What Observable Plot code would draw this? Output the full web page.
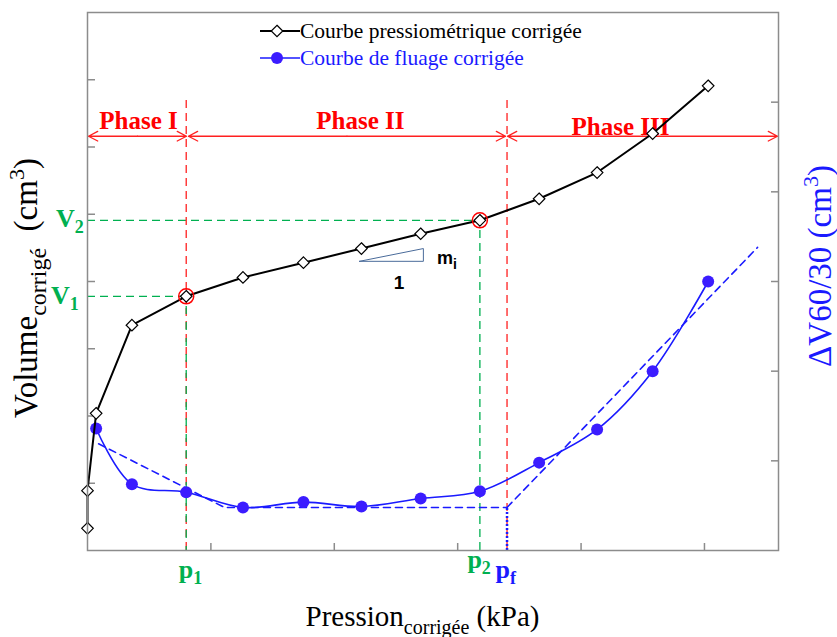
<!DOCTYPE html>
<html><head><meta charset="utf-8">
<script src="https://cdn.jsdelivr.net/npm/d3@7"></script>
<script src="https://cdn.jsdelivr.net/npm/@observablehq/plot@0.6"></script>
<style>
body{margin:0;background:#fff;}
#chart{width:837px;height:637px;}
</style>
</head><body><div id="chart"></div>
<script>
// ---- data ----
const pressure = [0, 0, 35, 180, 400, 630, 875, 1110, 1350, 1590, 1830, 2065, 2290, 2515];
const volume   = [33, 89, 204, 335, 378, 406, 428, 449, 471, 491, 523, 562, 620, 691];
const creepPressure = [35, 180, 400, 630, 875, 1110, 1350, 1590, 1830, 2065, 2290, 2515];
const creepDV       = [13.6, 7.4, 6.5, 4.8, 5.4, 4.9, 5.8, 6.6, 9.8, 13.5, 20.0, 30.0];
const xTicks = [500, 1000, 1500, 2000, 2500];
const yLeftTicks = [100, 200, 300, 400, 500, 600, 700];
const yRightTicks = [10, 20, 30, 40, 50];
const p1 = 400, p2 = 1590, pf = 1700, V1 = 378, V2 = 491;
const circled = [4, 9]; // indices of circled points
const trendP1 = [45, 555, 1700];   const trendD1 = [11.9, 4.8, 4.8];
const trendP2 = [1700, 2715];      const trendD2 = [4.8, 33.8];
const phaseNames = ["Phase I", "Phase II", "Phase III"];
const phaseBounds = [[4, 401], [409, 1694], [1702, 2796]];
const phaseLabelX = [207, 1106, 2160];
const phaseLabelY = [639, 639, 630];
const phaseArrowY = 616;
const redTop = 674;
const slopeP = [1102, 1361, 1361, 1102];
const slopeV = [430, 430, 449, 430];

// ---- layout ----
const W = 837, H = 637;
const mL = 87, mR = 59, mT = 12, mB = 87;
const xMax = 2800, yMax = 800, dvMax = 60;
const k = yMax / dvMax; // right-axis values mapped into left scale
const plotW = W - mL - mR, plotH = H - mT - mB;
const gray = "#8c8c8c", blue = "#1a1aff", dotBlue = "#3b1cff", green = "#00b050";
const serif = "Liberation Serif, Times New Roman, serif";
const sans = "Liberation Sans, Arial, sans-serif";

const main = pressure.map((p, i) => ({p, v: volume[i]}));
const creep = creepPressure.map((p, i) => ({p, v: creepDV[i] * k}));
const t1 = trendP1.map((p, i) => ({p, v: trendD1[i] * k}));
const t2 = trendP2.map((p, i) => ({p, v: trendD2[i] * k}));
const tri = slopeP.map((p, i) => ({p, v: slopeV[i]}));

const arrows = [];
phaseBounds.forEach(([a, b]) => {
  const m = (a + b) / 2;
  arrows.push({x1: m, x2: a}, {x1: m, x2: b});
});
const phaseText = phaseNames.map((t, i) => ({t, x: phaseLabelX[i], y: phaseLabelY[i]}));

const plot = Plot.plot({
  width: W, height: H,
  marginLeft: mL, marginRight: mR, marginTop: mT, marginBottom: mB,
  style: {fontFamily: serif, background: "white", fontSize: "16px"},
  x: {domain: [0, xMax], axis: null},
  y: {domain: [0, yMax], axis: null},
  marks: [
    // ticks (inward)
    Plot.ruleX(xTicks, {x: d => d, insetTop: plotH - 7, stroke: gray, strokeWidth: 1.5}),
    Plot.ruleY(yLeftTicks, {y: d => d, insetRight: plotW - 8, stroke: gray, strokeWidth: 1.5}),
    Plot.ruleY(yRightTicks, {y: d => d * k, insetLeft: plotW - 7, stroke: gray, strokeWidth: 1.5}),
    // green guides
    Plot.ruleY([V1], {y: d => d, x1: 0, x2: p1, stroke: green, strokeWidth: 1.3, strokeDasharray: "8,5"}),
    Plot.ruleY([V2], {y: d => d, x1: 0, x2: p2, stroke: green, strokeWidth: 1.3, strokeDasharray: "8,5"}),
    Plot.ruleX([p2], {x: d => d, y1: 0, y2: V2, stroke: green, strokeWidth: 1.3, strokeDasharray: "8,5"}),
    // red phase limits
    Plot.ruleX([p1, pf], {x: d => d, y1: 0, y2: redTop, stroke: "#ff2020", strokeWidth: 1.3, strokeDasharray: "8,5"}),
    Plot.ruleX([p1], {x: d => d, y1: 0, y2: V1, stroke: green, strokeWidth: 1.3, strokeDasharray: "8,8", strokeDashoffset: 4}),
    // blue dotted pf
    Plot.ruleX([pf], {x: d => d, y1: 0, y2: trendD1[2] * k, stroke: blue, strokeWidth: 2.5, strokeDasharray: "2,2"}),
    // phase arrows
    Plot.arrow(arrows, {x1: "x1", x2: "x2", y1: phaseArrowY, y2: phaseArrowY, stroke: "#ff2020", strokeWidth: 1.3, headLength: 12, headAngle: 55, bend: 0}),
    Plot.text(phaseText, {x: "x", y: "y", text: "t", fill: "#ff0000", fontSize: 25, fontWeight: "bold", fontFamily: serif}),
    // creep trend lines
    Plot.line(t1, {x: "p", y: "v", stroke: blue, strokeWidth: 1.6, strokeDasharray: "7,5"}),
    Plot.line(t2, {x: "p", y: "v", stroke: blue, strokeWidth: 1.6, strokeDasharray: "7,5"}),
    // slope triangle
    Plot.line(tri, {x: "p", y: "v", stroke: "#4a6b9a", strokeWidth: 1}),
    // curves
    Plot.line(creep, {x: "p", y: "v", stroke: blue, strokeWidth: 1.6, curve: "catmull-rom"}),
    Plot.dot(creep, {x: "p", y: "v", r: 6, fill: dotBlue, stroke: "none"}),
    Plot.line(main, {x: "p", y: "v", stroke: "#000", strokeWidth: 2}),
    Plot.dot(main, {x: "p", y: "v", symbol: "diamond2", r: 5.2, fill: "#fff", stroke: "#000", strokeWidth: 1.2}),
    Plot.dot(circled.map(i => main[i]), {x: "p", y: "v", r: 7.5, fill: "none", stroke: "#ff0000", strokeWidth: 1.5}),
    Plot.frame({stroke: gray, strokeWidth: 1.5})
  ]
});
document.getElementById("chart").appendChild(plot);

const sx = plot.scale("x"), sy = plot.scale("y");
const svg = d3.select(plot);

function rich(sel, parts, size, attrs) {
  const t = sel.append("text").attr("text-anchor", "start").attr("font-family", serif);
  for (const [a, v] of Object.entries(attrs || {})) t.attr(a, v);
  t.attr("font-size", size);
  let shift = 0;
  for (const p of parts) {
    const fs = p.fs || size;
    const target = p.sub ? p.sub : p.sup ? -p.sup : 0;
    t.append("tspan").attr("dy", target - shift).attr("font-size", fs).text(p.t);
    shift = target;
  }
  return t;
}

// legend
const lg = svg.append("g");
lg.append("line").attr("x1", 260).attr("x2", 300).attr("y1", 31).attr("y2", 31).attr("stroke", "#000").attr("stroke-width", 2);
lg.append("path").attr("d", d3.symbol(d3.symbolDiamond2, Math.PI * 5.2 * 5.2)()).attr("transform", "translate(277,31)").attr("fill", "#fff").attr("stroke", "#000").attr("stroke-width", 1.2);
rich(lg, [{t: "Courbe pressiométrique corrigée"}], 21.5, {x: 300, y: 38, fill: "#000"});
lg.append("line").attr("x1", 260).attr("x2", 300).attr("y1", 58).attr("y2", 58).attr("stroke", blue).attr("stroke-width", 1.6);
lg.append("circle").attr("cx", 277).attr("cy", 58).attr("r", 6).attr("fill", dotBlue);
rich(lg, [{t: "Courbe de fluage corrigée"}], 21.5, {x: 300, y: 65, fill: blue});

// V1, V2, p1, p2, pf labels
const bold = {"font-weight": "bold"};
rich(svg, [{t: "V"}, {t: "2", fs: 18, sub: 6}], 26, {...bold, fill: green, x: sx.apply(0) - 31, y: sy.apply(V2) + 7});
rich(svg, [{t: "V"}, {t: "1", fs: 18, sub: 6}], 26, {...bold, fill: green, x: sx.apply(0) - 36, y: sy.apply(V1) + 8});
rich(svg, [{t: "p"}, {t: "1", fs: 18, sub: 6}], 26, {...bold, fill: green, x: sx.apply(p1) - 7, y: sy.apply(0) + 28});
rich(svg, [{t: "p"}, {t: "2", fs: 18, sub: 6}], 26, {...bold, fill: green, x: sx.apply(p2) - 12, y: sy.apply(0) + 18});
rich(svg, [{t: "p"}, {t: "f", fs: 18, sub: 6}], 26, {...bold, fill: blue, x: sx.apply(pf) - 11, y: sy.apply(0) + 28});

// slope marker labels
rich(svg, [{t: "m"}, {t: "i", fs: 14, sub: 5}], 18, {...bold, "font-family": sans, fill: "#000", x: sx.apply(slopeP[1]) + 14, y: sy.apply(slopeV[0]) + 3});
rich(svg, [{t: "1"}], 19, {...bold, "font-family": sans, fill: "#000", "text-anchor": "middle",
  x: (sx.apply(slopeP[0]) + sx.apply(slopeP[1])) / 2 + 8, y: sy.apply(slopeV[0]) + 28});

// axis titles
rich(svg, [{t: "Pression"}, {t: "corrigée", fs: 20, sub: 8}, {t: " (kPa)"}], 29, {x: (mL + W - mR) / 2 - 10, y: 626, "text-anchor": "middle", fill: "#000"});
const lt = svg.append("g").attr("transform", `translate(37,${288}) rotate(-90)`);
rich(lt, [{t: "Volume"}, {t: "corrigé", fs: 24, sub: 9}, {t: "  (cm"}, {t: "3", fs: 22, sup: 13}, {t: ")"}], 33, {x: 0, y: 0, "text-anchor": "middle", fill: "#000", "xml:space": "preserve", style: "white-space:pre"});
const rt = svg.append("g").attr("transform", `translate(831,${266}) rotate(-90)`);
rich(rt, [{t: "ΔV60/30 (cm"}, {t: "3", fs: 22, sup: 13}, {t: ")"}], 33, {x: 0, y: 0, "text-anchor": "middle", fill: blue});
</script>
</body></html>
